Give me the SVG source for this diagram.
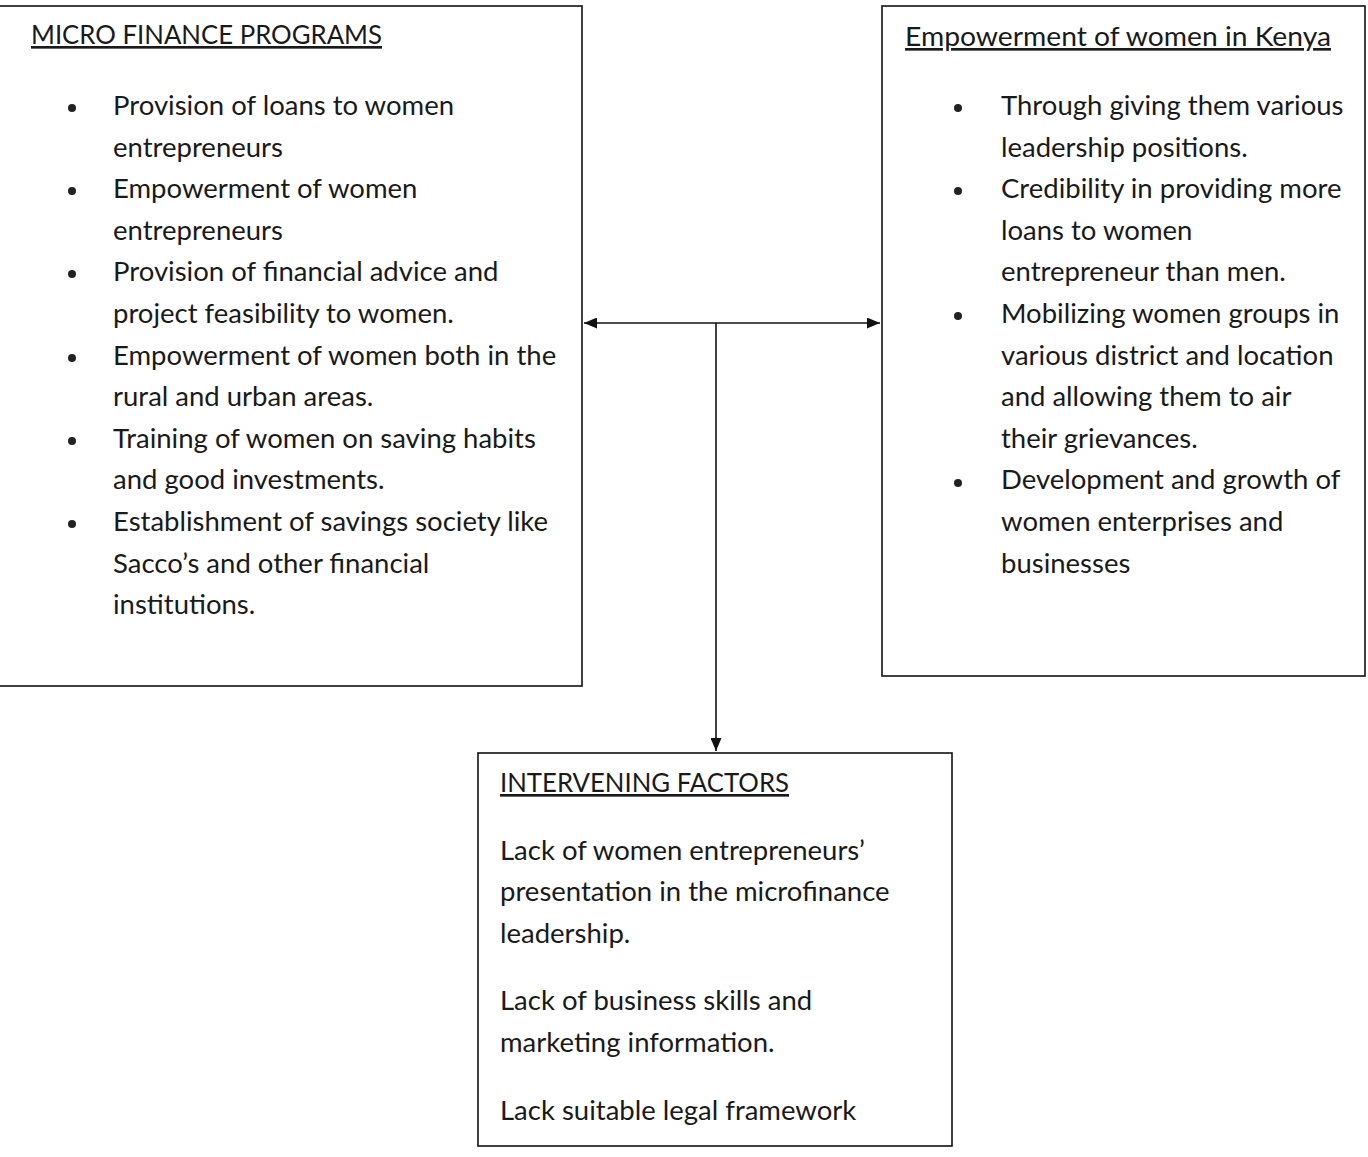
<svg xmlns="http://www.w3.org/2000/svg" width="1368" height="1157" viewBox="0 0 1368 1157">
<style>
.box{fill:#fff;stroke:#111;stroke-width:1.6}
text{font-family:Lato,"Open Sans","Liberation Sans",sans-serif;font-size:27.5px;fill:#1a1a1a}
.h{text-decoration:underline;font-size:26.5px}
.b{fill:#222}
.c{stroke:#111;stroke-width:1.6;fill:none}
</style>
<defs>
<marker id="ah" viewBox="0 0 13 11" refX="13" refY="5.5" markerWidth="13" markerHeight="11" markerUnits="userSpaceOnUse" orient="auto-start-reverse">
<path d="M0,0 L13,5.5 L0,11 Z" fill="#111"/>
</marker>
</defs>
<rect width="1368" height="1157" fill="#fff"/>
<g id="connectors">
<line class="c" x1="584" y1="323" x2="880" y2="323" marker-start="url(#ah)" marker-end="url(#ah)"/>
<line class="c" x1="716" y1="323" x2="716" y2="751" marker-end="url(#ah)"/>
</g>
<g id="micro-finance">
<rect class="box" x="-5" y="6" width="587" height="680"/>
<text class="h" x="31" y="44" textLength="351" lengthAdjust="spacingAndGlyphs">MICRO FINANCE PROGRAMS</text>
<circle class="b" cx="72" cy="108" r="4"/>
<circle class="b" cx="72" cy="191" r="4"/>
<circle class="b" cx="72" cy="274" r="4"/>
<circle class="b" cx="72" cy="358" r="4"/>
<circle class="b" cx="72" cy="441" r="4"/>
<circle class="b" cx="72" cy="524" r="4"/>
<text x="113" y="115">Provision of loans to women</text>
<text x="113" y="157">entrepreneurs</text>
<text x="113" y="198">Empowerment of women</text>
<text x="113" y="240">entrepreneurs</text>
<text x="113" y="281">Provision of financial advice and</text>
<text x="113" y="323">project feasibility to women.</text>
<text x="113" y="365">Empowerment of women both in the</text>
<text x="113" y="406">rural and urban areas.</text>
<text x="113" y="448">Training of women on saving habits</text>
<text x="113" y="489">and good investments.</text>
<text x="113" y="531">Establishment of savings society like</text>
<text x="113" y="573">Sacco’s and other financial</text>
<text x="113" y="614">institutions.</text>
</g>
<g id="empowerment">
<rect class="box" x="882" y="6" width="483" height="670"/>
<text class="h" x="905" y="46" textLength="426" lengthAdjust="spacingAndGlyphs">Empowerment of women in Kenya</text>
<circle class="b" cx="958" cy="108" r="4"/>
<circle class="b" cx="958" cy="191" r="4"/>
<circle class="b" cx="958" cy="316" r="4"/>
<circle class="b" cx="958" cy="483" r="4"/>
<text x="1001" y="115">Through giving them various</text>
<text x="1001" y="157">leadership positions.</text>
<text x="1001" y="198">Credibility in providing more</text>
<text x="1001" y="240">loans to women</text>
<text x="1001" y="281">entrepreneur than men.</text>
<text x="1001" y="323">Mobilizing women groups in</text>
<text x="1001" y="365">various district and location</text>
<text x="1001" y="406">and allowing them to air</text>
<text x="1001" y="448">their grievances.</text>
<text x="1001" y="489">Development and growth of</text>
<text x="1001" y="531">women enterprises and</text>
<text x="1001" y="573">businesses</text>
</g>
<g id="intervening">
<rect class="box" x="478" y="753" width="474" height="393"/>
<text class="h" x="500" y="792" textLength="289" lengthAdjust="spacingAndGlyphs">INTERVENING FACTORS</text>
<text x="500" y="860">Lack of women entrepreneurs’</text>
<text x="500" y="901">presentation in the microfinance</text>
<text x="500" y="943">leadership.</text>
<text x="500" y="1010">Lack of business skills and</text>
<text x="500" y="1052">marketing information.</text>
<text x="500" y="1120">Lack suitable legal framework</text>
</g>
</svg>
